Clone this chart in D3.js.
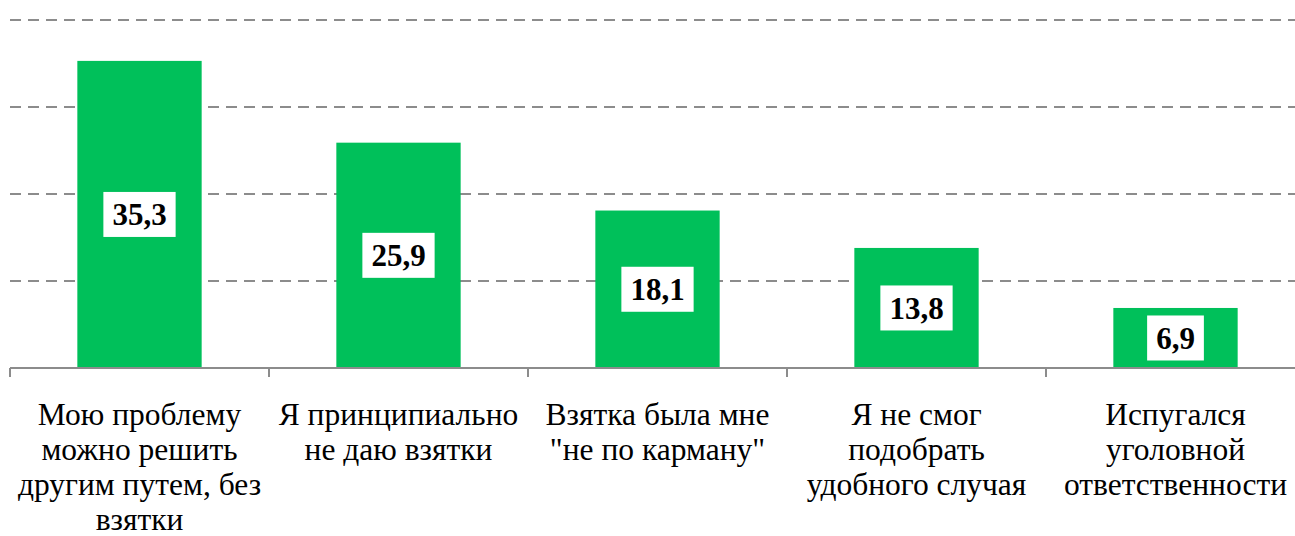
<!DOCTYPE html>
<html>
<head>
<meta charset="utf-8">
<script src="https://cdn.jsdelivr.net/npm/d3@7"></script>
</head>
<body style="margin:0">
<svg id="chart" width="1295" height="536"></svg>
<script>
// data
const categories = ['c1', 'c2', 'c3', 'c4', 'c5']
const labelLines = [
	['Мою проблему', 'можно решить', 'другим путем, без', 'взятки'],
	['Я принципиально', 'не даю взятки'],
	['Взятка была мне', '"не по карману"'],
	['Я не смог', 'подобрать', 'удобного случая'],
	['Испугался', 'уголовной', 'ответственности'],
]
const values = [35.3, 25.9, 18.1, 13.8, 6.9]
const yTicks = [10, 20, 30, 40]

const W = 1295
const plotLeft = 10,
	plotTop = 20,
	plotBottom = 368,
	step = 259

const svg = d3.select('#chart')

const x = d3
	.scaleBand()
	.domain(categories)
	.range([plotLeft, plotLeft + step * categories.length])
	.paddingInner(0.52)
	.paddingOuter(0.26)

const y = d3.scaleLinear().domain([0, 40]).range([plotBottom, plotTop])

// dashed gridlines
svg
	.append('g')
	.selectAll('line')
	.data(yTicks)
	.enter()
	.append('line')
	.attr('x1', plotLeft)
	.attr('x2', W)
	.attr('y1', d => y(d))
	.attr('y2', d => y(d))
	.attr('stroke', '#8c8c8c')
	.attr('stroke-width', 2)
	.attr('stroke-dasharray', '11,7')

// bars
svg
	.append('g')
	.selectAll('rect')
	.data(values)
	.enter()
	.append('rect')
	.attr('x', (d, i) => x(categories[i]))
	.attr('width', x.bandwidth())
	.attr('y', d => y(d))
	.attr('height', d => y(0) - y(d))
	.attr('fill', '#00c05a')

// axis line and ticks
svg
	.append('line')
	.attr('x1', plotLeft)
	.attr('x2', W)
	.attr('y1', y(0))
	.attr('y2', y(0))
	.attr('stroke', '#8c8c8c')
	.attr('stroke-width', 2)

svg
	.append('g')
	.selectAll('line')
	.data(d3.range(categories.length + 1))
	.enter()
	.append('line')
	.attr('x1', i => plotLeft + i * x.step())
	.attr('x2', i => plotLeft + i * x.step())
	.attr('y1', y(0))
	.attr('y2', y(0) + 9)
	.attr('stroke', '#8c8c8c')
	.attr('stroke-width', 2)

// value labels in white boxes
const labels = svg
	.append('g')
	.selectAll('g')
	.data(values)
	.enter()
	.append('g')
	.attr(
		'transform',
		(d, i) =>
			`translate(${x(categories[i]) + x.bandwidth() / 2},${(y(d) + y(0)) / 2})`
	)

labels
	.append('text')
	.attr('text-anchor', 'middle')
	.attr('y', 11)
	.attr('font-family', 'Liberation Serif')
	.attr('font-size', 31)
	.attr('font-weight', 'bold')
	.text(d => d3.format('.1f')(d).replace('.', ','))

labels.each(function () {
	const g = d3.select(this)
	const bb = g.select('text').node().getBBox()
	g.insert('rect', 'text')
		.attr('x', bb.x - 9)
		.attr('y', -22.5)
		.attr('width', bb.width + 18)
		.attr('height', 45)
		.attr('fill', '#fff')
})

// category labels
svg
	.append('g')
	.selectAll('text')
	.data(labelLines)
	.enter()
	.append('text')
	.attr('text-anchor', 'middle')
	.attr('font-family', 'Liberation Serif')
	.attr('font-size', 31.5)
	.attr('fill', '#000')
	.each(function (lines, i) {
		const cx = x(categories[i]) + x.bandwidth() / 2
		d3.select(this)
			.selectAll('tspan')
			.data(lines)
			.enter()
			.append('tspan')
			.attr('x', cx)
			.attr('y', (l, j) => 425 + j * 35)
			.text(l => l)
	})
</script>
</body>
</html>
